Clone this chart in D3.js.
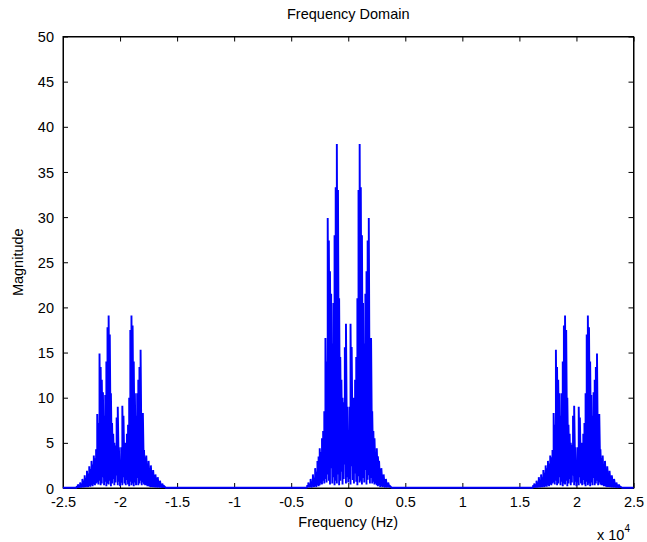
<!DOCTYPE html>
<html>
<head>
<meta charset="utf-8">
<script src="https://cdn.jsdelivr.net/npm/d3@7"></script>
<style>
  html, body { margin: 0; padding: 0; background: #ffffff; }
  svg { display: block; }
  text { font-family: "Liberation Sans", Arial, Helvetica, sans-serif; fill: #000; }
</style>
</head>
<body>
<svg id="chart" width="647" height="542"></svg>
<script>
// ---------------- DATA ----------------
const xTicks = [-25000, -20000, -15000, -10000, -5000, 0, 5000, 10000, 15000, 20000, 25000];
const xTickLabels = ["-2.5", "-2", "-1.5", "-1", "-0.5", "0", "0.5", "1", "1.5", "2", "2.5"];
const yTicks = [0, 5, 10, 15, 20, 25, 30, 35, 40, 45, 50];
const yTickLabels = ["0", "5", "10", "15", "20", "25", "30", "35", "40", "45", "50"];

// Frequency bins (Hz), 100 Hz apart, for each cluster
const centerBinStart = -3600, centerBinStep = 100;   // -3600 .. 3600
const leftBinStart = -23800, leftBinStep = 100;      // -23800 .. -16200
const rightBinStart = 16200, rightBinStep = 100;     // 16200 .. 23800

// Peak magnitudes per bin
const centerPeak = [
  0.3, 0.6, 0.4, 1.0, 0.7, 1.5, 1.1, 2.2, 1.8, 3.0, 3.5,
  4.4, 4.0, 5.5, 6.3, 8.5,
  16.6, 14.0, 29.9, 27.4, 24.0, 21.5, 16.0, 20.5, 28.0, 33.3, 38.1,
  33.0, 21.0, 14.5, 12.0, 10.0, 9.5, 15.6, 18.2, 9.0,
  5.8,
  9.0, 18.2, 15.6, 9.5, 10.0, 12.0, 14.5, 21.0, 33.0,
  38.1, 33.3, 28.0, 20.5, 16.0, 21.5, 24.0, 27.4, 29.9, 14.0, 16.6,
  8.5, 6.3, 5.5, 4.0, 4.4,
  3.5, 3.0, 1.8, 2.2, 1.1, 1.5, 0.7, 1.0, 0.4, 0.6, 0.3
];
const centerTrough = [
  0.05, 0.1, 0.05, 0.1, 0.05, 0.15, 0.1, 0.2, 0.1, 0.3, 0.2,
  0.3, 0.5, 0.4, 0.8, 0.5,
  1.0, 0.6, 1.5, 0.8, 0.4, 2.2, 0.5, 1.2, 0.3, 0.8, 0.5,
  1.5, 0.3, 0.8, 1.8, 0.4, 1.0, 2.6, 0.5, 1.2,
  0.6,
  1.0, 0.4, 2.4, 0.9, 0.5, 1.6, 0.7, 0.3, 1.3,
  0.6, 0.8, 0.4, 1.1, 0.6, 2.0, 0.4, 0.9, 1.4, 0.5, 1.1,
  0.5, 0.7, 0.4, 0.5, 0.3,
  0.2, 0.3, 0.1, 0.2, 0.1, 0.15, 0.05, 0.1, 0.05, 0.1, 0.05
];

const leftPeak = [
  0.2, 0.4, 0.3, 0.6, 0.5, 1.0, 0.8, 1.4, 1.1, 1.9,
  1.6, 2.4, 2.1, 3.0, 2.6, 3.6, 3.3, 4.3, 8.2, 7.2,
  14.9, 13.4, 12.0, 10.6, 8.0, 10.3, 14.0, 17.8, 19.1, 17.0,
  10.5, 7.2, 6.0, 5.0, 4.7, 7.8, 9.0, 4.5, 2.8, 4.5,
  9.1, 8.0, 4.8, 5.0, 6.0, 7.0, 10.0, 17.5, 19.1, 18.0,
  14.0, 10.5, 8.0, 10.5, 12.0, 13.4, 15.3, 7.0, 8.3, 4.2,
  3.4, 3.6, 2.7, 3.0, 2.2, 2.5, 1.7, 2.0, 1.2, 1.5,
  0.9, 1.2, 0.6, 0.8, 0.4, 0.5, 0.3
];
const rightPeak = [
  0.3, 0.5, 0.4, 0.8, 0.6, 1.2, 0.9, 1.5, 1.2, 2.0,
  1.7, 2.5, 2.2, 3.0, 2.7, 3.6, 3.4, 4.2, 8.3, 7.0,
  15.3, 13.4, 12.0, 10.5, 8.0, 10.5, 14.0, 18.0, 19.1, 17.5,
  10.0, 7.0, 6.0, 5.0, 4.8, 8.0, 9.1, 4.5, 2.8, 4.5,
  9.0, 7.8, 4.7, 5.0, 6.0, 7.2, 10.5, 17.0, 19.1, 17.8,
  14.0, 10.3, 8.0, 10.6, 12.0, 13.4, 14.9, 7.2, 8.2, 4.3,
  3.3, 3.6, 2.6, 3.0, 2.1, 2.4, 1.6, 1.9, 1.1, 1.4,
  0.8, 1.0, 0.5, 0.6, 0.3, 0.4, 0.2
];
const sideTrough = [
  0.02, 0.05, 0.03, 0.06, 0.04, 0.1, 0.06, 0.1, 0.08, 0.15, 0.1, 0.2, 0.15,
  0.3, 0.2, 0.4, 0.3, 0.5,
  0.6, 0.4, 0.8, 0.3, 0.5, 1.2, 0.3, 0.7, 0.2, 0.5, 0.4,
  0.8, 0.2, 0.5, 1.0, 0.3, 0.6, 1.4, 0.3, 0.7,
  0.2,
  0.6, 0.3, 1.2, 0.5, 0.3, 0.9, 0.4, 0.2, 0.7,
  0.3, 0.5, 0.2, 0.6, 0.3, 1.1, 0.3, 0.5, 0.8, 0.3, 0.6,
  0.4, 0.3, 0.3, 0.2, 0.2,
  0.15, 0.1, 0.12, 0.08, 0.1, 0.06, 0.08, 0.05, 0.06, 0.04, 0.05, 0.03, 0.02
];

// Near-zero floor between the clusters
const floorFreq = [-25000, -24000, -16000, -3800, 3800, 16000, 24000, 25000];
const floorMag  = [0.03, 0.03, 0.03, 0.03, 0.03, 0.03, 0.03, 0.03];

// ---------------- BUILD SERIES ----------------
function clusterPoints(start, step, peaks, troughs) {
  const pts = [];
  peaks.forEach((p, i) => {
    const f = start + i * step;
    pts.push([f, troughs[i]]);
    pts.push([f, p]);
  });
  return pts;
}
const floorPts = floorFreq.map((f, i) => [f, floorMag[i]]);
const series = [].concat(
  floorPts.slice(0, 2),
  clusterPoints(leftBinStart, leftBinStep, leftPeak, sideTrough),
  floorPts.slice(2, 4),
  clusterPoints(centerBinStart, centerBinStep, centerPeak, centerTrough),
  floorPts.slice(4, 6),
  clusterPoints(rightBinStart, rightBinStep, rightPeak, sideTrough),
  floorPts.slice(6, 8)
);

// ---------------- DRAW ----------------
const svg = d3.select("#chart");
const L = 63, R = 633.5, T = 36.5, B = 488;
const x = d3.scaleLinear().domain([-25000, 25000]).range([L, R]);
const y = d3.scaleLinear().domain([0, 50]).range([B, T]);
const tickLen = 5;
const fontSize = 14.5;

// axes box
svg.append("rect")
  .attr("x", L).attr("y", T).attr("width", R - L).attr("height", B - T)
  .attr("fill", "#fff").attr("stroke", "#000").attr("stroke-width", 1);

// bottom axis
const xAxisB = d3.axisBottom(x).tickValues(xTicks)
  .tickFormat((d, i) => xTickLabels[i]).tickSizeInner(-tickLen).tickSizeOuter(0).tickPadding(9);
const gxB = svg.append("g").attr("transform", `translate(0,${B})`).call(xAxisB);
// top axis (ticks only)
const xAxisT = d3.axisTop(x).tickValues(xTicks).tickFormat("").tickSizeInner(-tickLen).tickSizeOuter(0);
const gxT = svg.append("g").attr("transform", `translate(0,${T})`).call(xAxisT);
// left axis
const yAxisL = d3.axisLeft(y).tickValues(yTicks)
  .tickFormat((d, i) => yTickLabels[i]).tickSizeInner(-tickLen).tickSizeOuter(0).tickPadding(9);
const gyL = svg.append("g").attr("transform", `translate(${L},0)`).call(yAxisL);
// right axis
const yAxisR = d3.axisRight(y).tickValues(yTicks).tickFormat("").tickSizeInner(-tickLen).tickSizeOuter(0);
const gyR = svg.append("g").attr("transform", `translate(${R},0)`).call(yAxisR);

[gxB, gxT, gyL, gyR].forEach(g => {
  g.select(".domain").attr("stroke", "#000");
  g.selectAll(".tick line").attr("stroke", "#000");
  g.selectAll("text").style("font-size", fontSize + "px")
    .style("font-family", '"Liberation Sans", Arial, sans-serif').attr("fill", "#000");
});
gxB.selectAll(".tick text").attr("dy", "0.71em");
gyL.selectAll(".tick text").attr("dy", "0.35em");

// spectrum line
const line = d3.line().x(d => x(d[0])).y(d => y(d[1]));
svg.append("path")
  .datum(series)
  .attr("d", line)
  .attr("fill", "none")
  .attr("stroke", "#0000ff")
  .attr("stroke-width", 1.9)
  .attr("stroke-linejoin", "bevel");

// titles
svg.append("text").attr("x", (L + R) / 2).attr("y", 19)
  .attr("text-anchor", "middle").style("font-size", fontSize + "px").text("Frequency Domain");
svg.append("text").attr("x", (L + R) / 2).attr("y", 527)
  .attr("text-anchor", "middle").style("font-size", fontSize + "px").text("Frequency (Hz)");
svg.append("text").attr("transform", `translate(23,${(T + B) / 2}) rotate(-90)`)
  .attr("text-anchor", "middle").style("font-size", fontSize + "px").text("Magnitude");
const ex = svg.append("text").attr("x", 597).attr("y", 540).style("font-size", fontSize + "px");
ex.append("tspan").text("x 10");
ex.append("tspan").attr("dy", -8).style("font-size", "10px").text("4");
</script>
</body>
</html>
